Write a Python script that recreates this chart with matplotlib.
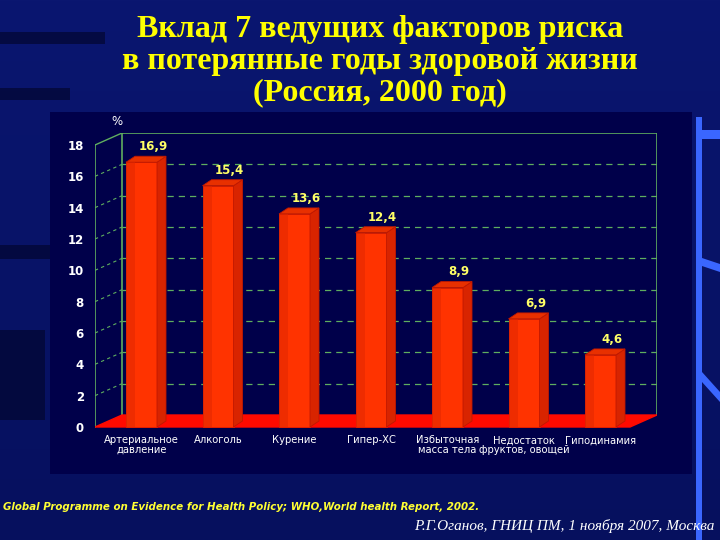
import matplotlib
matplotlib.use("Agg")
import matplotlib.pyplot as plt
from matplotlib.patches import Polygon, Rectangle
import numpy as np

# ---------------- data ----------------
categories = ["Артериальное\nдавление", "Алкоголь", "Курение", "Гипер-ХС",
              "Избыточная\nмасса тела", "Недостаток\nфруктов, овощей", "Гиподинамия"]
values = [16.9, 15.4, 13.6, 12.4, 8.9, 6.9, 4.6]
value_labels = ["16,9", "15,4", "13,6", "12,4", "8,9", "6,9", "4,6"]
yticks = [0, 2, 4, 6, 8, 10, 12, 14, 16, 18]
title_lines = ["Вклад 7 ведущих факторов риска",
               "в потерянные годы здоровой жизни",
               "(Россия, 2000 год)"]
source = "Global Programme on Evidence for Health Policy; WHO,World health Report, 2002."
author = "Р.Г.Оганов, ГНИЦ ПМ, 1 ноября 2007, Москва"

W, H = 720, 540
fig = plt.figure(figsize=(7.2, 5.4), dpi=100)
fig.patch.set_facecolor("#08146c")

# background axes in pixel coords
bg = fig.add_axes([0, 0, 1, 1])
bg.set_xlim(0, W)
bg.set_ylim(H, 0)
bg.axis("off")
grad = np.linspace(0, 1, 256).reshape(-1, 1)
bg.imshow(grad, extent=[0, W, H, 0], aspect="auto",
          cmap=matplotlib.colors.LinearSegmentedColormap.from_list("g", ["#0a1670", "#06105e"]),
          zorder=0)
for (y0, h, w) in [(32, 12, 105), (88, 12, 70), (245, 14, 55), (330, 90, 45)]:
    bg.add_patch(Rectangle((0, y0), w, h, color="#020630", alpha=0.7, zorder=1, lw=0))
bg.add_patch(Rectangle((50, 112), 642, 362, color="#00004a", zorder=1, lw=0))
bg.add_patch(Rectangle((696, 117), 6, 423, color="#3a66ff", zorder=2, lw=0))
bg.add_patch(Rectangle((702, 130), 18, 9, color="#3a66ff", zorder=2, lw=0))
bg.add_patch(Polygon([(702, 258), (720, 264), (720, 272), (702, 266)], color="#3a66ff", zorder=2, lw=0))
bg.add_patch(Polygon([(702, 372), (720, 392), (720, 402), (702, 382)], color="#3a66ff", zorder=2, lw=0))

# title
for yy, line in zip([29, 61, 93], title_lines):
    bg.text(380, yy, line, ha="center", va="center", color="#ffff00",
            fontsize=23, fontweight="bold", family="Liberation Serif", zorder=3)
# footer
bg.text(3, 507, source, ha="left", va="center", color="#ffff33",
        fontsize=7.4, fontweight="bold", fontstyle="italic", family="DejaVu Sans", zorder=3)
bg.text(714, 526, author, ha="right", va="center", color="white",
        fontsize=11, fontstyle="italic", family="Liberation Serif", zorder=3)

# ---------------- chart axes ----------------
px_per_cat = 76.5
cx0 = 141.5
px_per_unit = (427 - 145) / 18.0
y0px = 427

def xd(px):
    return (px - cx0) / px_per_cat

def yd(py):
    return (y0px - py) / px_per_unit

left_px, right_px, top_px, bot_px = 95, 657, 133, 431
ax = fig.add_axes([left_px / W, 1 - bot_px / H, (right_px - left_px) / W, (bot_px - top_px) / H])
ax.set_xlim(xd(left_px), xd(right_px))
ax.set_ylim(yd(bot_px), yd(top_px))
ax.patch.set_alpha(0)
for s in ax.spines.values():
    s.set_visible(False)

green = "#5fae5f"
xl = xd(95)
xb = xd(122)
xr = xd(657)
xfr = xd(630)
dyb = 12 / px_per_unit
top_v = 18 + dyb

ax.add_patch(Polygon([(xl, 0), (xb, dyb), (xr, dyb), (xfr, 0)], closed=True,
                     facecolor="#ff0a00", edgecolor="#ff0a00", zorder=2))
ax.plot([xb, xb, xr, xr], [dyb, top_v, top_v, dyb], color=green, lw=1.2, zorder=1)
ax.plot([xl, xl], [0, 18], color=green, lw=1.2, zorder=1)
ax.plot([xl, xb], [18, top_v], color=green, lw=1.0, zorder=1)
for v in yticks[1:-1]:
    ax.plot([xb, xr], [v + dyb, v + dyb], color=green, lw=0.9, ls=(0, (5, 4)), zorder=1)
    ax.plot([xl, xb], [v, v + dyb], color=green, lw=0.8, ls=(0, (3, 3)), zorder=1)

x = np.arange(len(values))
bw = 31 / px_per_cat
ddx = 9 / px_per_cat
ddy = 6 / px_per_unit
ax.bar(x, values, width=bw, color="#ff3300", edgecolor="#e02000", lw=0.6, zorder=3)
for xi, v in zip(x, values):
    l, r = xi - bw / 2, xi + bw / 2
    ax.add_patch(Rectangle((l, 0), bw * 0.3, v, facecolor="#e02800", lw=0, zorder=3.1, alpha=0.55))
    ax.add_patch(Polygon([(r, 0), (r + ddx, ddy), (r + ddx, v + ddy), (r, v)], closed=True,
                         facecolor="#d82400", edgecolor="#c01800", lw=0.6, zorder=3))
    ax.add_patch(Polygon([(l, v), (l + ddx, v + ddy), (r + ddx, v + ddy), (r, v)], closed=True,
                         facecolor="#e83000", edgecolor="#c01800", lw=0.6, zorder=3))

for xi, v, lab in zip(x, values, value_labels):
    ax.text(xi + 0.15, v + 1.0, lab, ha="center", va="center", color="#ffff66",
            fontsize=8.5, fontweight="bold", family="DejaVu Sans", zorder=4)

ax.set_yticks(yticks)
ax.set_yticklabels([str(t) for t in yticks], color="white", fontsize=8.5,
                   fontweight="bold", family="DejaVu Sans")
ax.tick_params(axis="y", length=0, pad=8)
ax.set_xticks(x)
ax.set_xticklabels(categories, color="white", fontsize=7.2,
                   family=["Liberation Sans Narrow", "DejaVu Sans"], linespacing=0.95)
ax.tick_params(axis="x", length=0, pad=3)

ax.text(xd(117), yd(122), "%", ha="center", va="center", color="white",
        fontsize=8.5, family="DejaVu Sans", clip_on=False)

fig.savefig("out.png", dpi=100, facecolor=fig.get_facecolor())
